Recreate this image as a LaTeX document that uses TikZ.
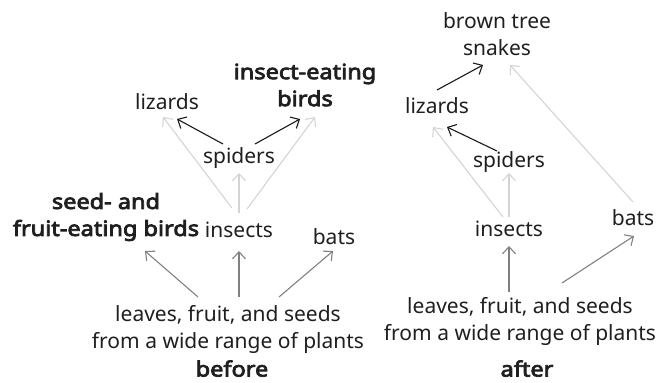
\documentclass[tikz,border=0pt]{standalone}
\usepackage{fontspec}
\setmainfont{Noto Sans}[BoldFont={Noto Sans},BoldFeatures={FakeBold=3.6,FakeStretch=1.12}]
\usetikzlibrary{arrows.meta}

\begin{document}
\begin{tikzpicture}[x=1pt,y=-1pt,
    species/.style={inner sep=0pt,text height=15pt,text depth=4pt,text=black!88,font=\fontsize{21}{27}\selectfont},
    group/.style={inner sep=0pt,align=center,text=black!88,font=\fontsize{21}{27}\selectfont},
    strong/.style={font=\fontsize{21}{27}\selectfont\bfseries},
    eats/.style={-{Straight Barb[length=7pt,width=13pt]},line width=1.1pt},
    direct/.style={eats,black!90},
    plant/.style={eats,black!50},
    faint/.style={eats,black!17}]
    \useasboundingbox (0,0) rectangle (670,383);
    % before
    \node[species] (li1) at (167,104) {lizards};
    \node[group,strong] (bi1) at (305,85) {insect-eating\\birds};
    \node[species] (sp1) at (239,158) {spiders};
    \node[group,strong] (se1) at (106,217) {seed- and\\fruit-eating birds};
    \node[species] (in1) at (239,232) {insects};
    \node[species] (ba1) at (334,239) {bats};
    \node[group] (pl1) at (228,329) {leaves, fruit, and seeds\\from a wide range of plants};
    \node[species,strong] (be) at (232,371) {before};
    \draw[faint] ([shift={(-7,-24)}]in1.center) -- ([shift={(-4,13)}]li1.center);
    \draw[faint] ([shift={(0,-19)}]in1.center) -- ([shift={(0,15)}]sp1.center);
    \draw[faint] ([shift={(8,-23)}]in1.center) -- ([shift={(10,32)}]bi1.center);
    \draw[direct] ([shift={(-16,-14)}]sp1.center) -- ([shift={(10,15)}]li1.center);
    \draw[direct] ([shift={(16,-14)}]sp1.center) -- ([shift={(-5,34)}]bi1.center);
    \draw[plant] ([shift={(-30,-32)}]pl1.center) -- ([shift={(39,34)}]se1.center);
    \draw[plant] ([shift={(11,-32)}]pl1.center) -- ([shift={(0,19)}]in1.center);
    \draw[plant] ([shift={(51,-32)}]pl1.center) -- ([shift={(-1,12)}]ba1.center);
    % after
    \node[group] (sn2) at (497,34.5) {brown tree\\snakes};
    \node[species] (li2) at (437,108) {lizards};
    \node[species] (sp2) at (509,162) {spiders};
    \node[species] (in2) at (509,231) {insects};
    \node[species] (ba2) at (633,220) {bats};
    \node[group] (pl2) at (520,321.5) {leaves, fruit, and seeds\\from a wide range of plants};
    \node[species,strong] (af) at (527,371) {after};
    \draw[faint] ([shift={(-6,-14)}]in2.center) -- ([shift={(-4,19)}]li2.center);
    \draw[faint] ([shift={(0,-14)}]in2.center) -- ([shift={(0,11)}]sp2.center);
    \draw[faint] ([shift={(0,-18)}]ba2.center) -- ([shift={(13,30.5)}]sn2.center);
    \draw[direct] ([shift={(-12,-11)}]sp2.center) -- ([shift={(10,19)}]li2.center);
    \draw[direct] ([shift={(0,-18)}]li2.center) -- ([shift={(-14,30.5)}]sn2.center);
    \draw[plant] ([shift={(-11,-29.5)}]pl2.center) -- ([shift={(0,15)}]in2.center);
    \draw[plant] ([shift={(42,-38.5)}]pl2.center) -- ([shift={(1,16)}]ba2.center);
\end{tikzpicture}
\end{document}
